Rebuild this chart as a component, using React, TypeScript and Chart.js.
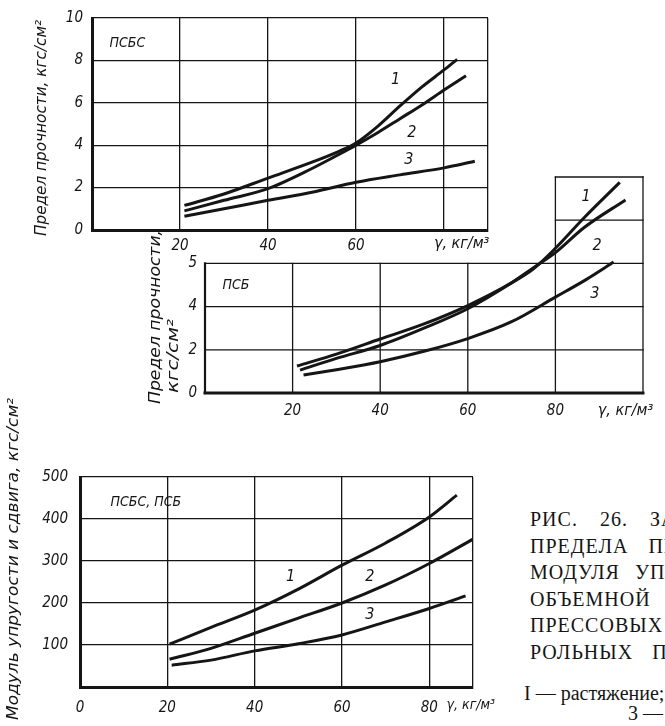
import React, { useEffect, useRef } from 'react';
import { Chart, registerables } from 'chart.js';

Chart.register(...registerables);

// ---------- DATA ----------
// Chart 1 — ПСБС, ultimate strength vs density
const psbsX1 = [21, 30, 40, 50, 56, 60, 65, 70, 75, 80, 83];
const psbsY1 = [1.16, 1.7, 2.45, 3.2, 3.7, 4.1, 4.9, 5.85, 6.75, 7.55, 8.05];
const psbsX2 = [21, 30, 40, 50, 56, 60, 65, 70, 75, 80, 85];
const psbsY2 = [0.9, 1.4, 1.95, 2.9, 3.55, 4.0, 4.6, 5.25, 5.9, 6.6, 7.28];
const psbsX3 = [21, 30, 40, 50, 60, 70, 80, 87];
const psbsY3 = [0.65, 1.0, 1.4, 1.78, 2.25, 2.6, 2.93, 3.24];
const psbsXTicks = [0, 20, 40, 60, 80, 90];
const psbsXTickLabels = ['', '20', '40', '60', '', ''];
const psbsYTicks = [0, 2, 4, 6, 8, 10];
const psbsYTickLabels = ['0', '2', '4', '6', '8', '10'];

// Chart 2 — ПСБ, ultimate strength vs density
const psbX1 = [21, 30, 40, 50, 60, 70, 75, 80, 86.5, 94.7];
const psbY1 = [1.25, 1.8, 2.5, 3.2, 4.05, 5.1, 5.75, 6.7, 8.1, 9.75];
const psbX2 = [21.7, 30, 40, 50, 60, 70, 75, 80, 86.5, 96];
const psbY2 = [1.06, 1.6, 2.2, 3.0, 3.9, 5.1, 5.8, 6.5, 7.65, 8.94];
const psbX3 = [22.5, 30, 40, 50, 60, 70, 80, 87, 93.3];
const psbY3 = [0.83, 1.08, 1.45, 1.93, 2.52, 3.3, 4.44, 5.25, 6.06];
const psbXTicks = [0, 20, 40, 60, 80, 100];
const psbXTickLabels = ['', '20', '40', '60', '80', ''];
const psbYTicks = [0, 2, 4, 6];
const psbYTickLabels = ['0', '2', '4', '5'];
const psbGridX = [20, 40, 60];
const psbGridY = [2, 4];
const psbColumnX = [80, 100];
const psbColumnY = [8, 10];

// Chart 3 — ПСБС, ПСБ, modulus vs density
const modX1 = [20.5, 30, 40, 50, 60, 70, 80, 86.3];
const modY1 = [102, 142, 183, 233, 290, 343, 405, 457];
const modX2 = [20.5, 30, 40, 50, 60, 70, 80, 90];
const modY2 = [66, 92, 128, 164, 200, 243, 294, 352];
const modX3 = [21, 30, 40, 50, 60, 70, 80, 88.3];
const modY3 = [52, 64, 86, 103, 124, 155, 187, 217];
const modXTicks = [0, 20, 40, 60, 80, 90];
const modXTickLabels = ['0', '20', '40', '60', '80', ''];
const modYTicks = [0, 100, 200, 300, 400, 500];
const modYTickLabels = ['', '100', '200', '300', '400', '500'];

const captionLines = [
  'РИС. 26. ЗАВИСИМОСТЬ',
  'ПРЕДЕЛА ПРОЧНОСТИ И',
  'МОДУЛЯ УПРУГОСТИ ОТ',
  'ОБЪЕМНОЙ МАССЫ',
  'ПРЕССОВЫХ ПЕНОПОЛИСТИ-',
  'РОЛЬНЫХ ПЕНОПЛАСТОВ',
];
const captionWordGaps = [16, 14, 9, 9, 9, 13];
const captionNote1 = 'I — растяжение; 2 — сжатие;';
const captionNote2 = '3 — изгиб';

// ---------- STYLE ----------
const FAMILY = '"Liberation Sans Narrow", "DejaVu Sans Condensed", "DejaVu Sans", sans-serif';
const INK = '#151515';
const tickFont = { family: FAMILY, size: 15, style: 'italic' as const };

const pts = (xs: number[], ys: number[]) => xs.map((x, i) => ({ x, y: ys[i] }));
const curve = (xs: number[], ys: number[]) => ({
  data: pts(xs, ys),
  borderColor: INK,
  borderWidth: 3,
  pointRadius: 0,
  fill: false,
  cubicInterpolationMode: 'monotone' as const,
});

// Text annotations plugin
const notesPlugin = {
  id: 'notes',
  afterDatasetsDraw(chart: any, _a: any, opts: any) {
    const ctx = chart.ctx as CanvasRenderingContext2D;
    const xs = chart.scales.x;
    const ys = chart.scales.y;
    const area = chart.chartArea;
    ctx.save();
    ctx.fillStyle = INK;
    for (const n of opts.labels || []) {
      ctx.font = `italic ${n.size}px ${FAMILY}`;
      ctx.textAlign = n.align || 'center';
      ctx.textBaseline = 'middle';
      ctx.fillText(n.text, xs.getPixelForValue(n.x), ys.getPixelForValue(n.y));
    }
    for (const u of opts.units || []) {
      ctx.font = `italic ${u.size}px ${FAMILY}`;
      ctx.textAlign = 'center';
      ctx.textBaseline = 'middle';
      ctx.fillText(u.text, xs.getPixelForValue(u.x), area.bottom + u.dy);
    }
    for (const t of opts.titles || []) {
      ctx.save();
      ctx.font = `italic ${t.size}px ${FAMILY}`;
      ctx.textAlign = 'left';
      ctx.textBaseline = 'middle';
      ctx.translate(t.px, t.py);
      ctx.rotate(-Math.PI / 2);
      const w = ctx.measureText(t.text).width;
      if (t.len) ctx.scale(t.len / w, 1);
      ctx.fillText(t.text, 0, 0);
      ctx.restore();
    }
    ctx.restore();
  },
};

// Stepped frame for chart 2
const stepFramePlugin = {
  id: 'stepFrame',
  beforeDatasetsDraw(chart: any, _a: any, opts: any) {
    if (!opts || !opts.enabled) return;
    const ctx = chart.ctx as CanvasRenderingContext2D;
    const xs = chart.scales.x;
    const ys = chart.scales.y;
    const seg = (x1: number, y1: number, x2: number, y2: number, w: number) => {
      ctx.lineWidth = w;
      ctx.beginPath();
      ctx.moveTo(xs.getPixelForValue(x1), ys.getPixelForValue(y1));
      ctx.lineTo(xs.getPixelForValue(x2), ys.getPixelForValue(y2));
      ctx.stroke();
    };
    const xMin = psbXTicks[0];
    const xMax = psbXTicks[psbXTicks.length - 1];
    const yTop = psbYTicks[psbYTicks.length - 1];
    const colTop = psbColumnY[psbColumnY.length - 1];
    ctx.save();
    ctx.strokeStyle = INK;
    ctx.lineCap = 'square';
    for (const gx of psbGridX) seg(gx, 0, gx, yTop, 1.3);
    for (const gy of psbGridY) seg(xMin, gy, xMax, gy, 1.3);
    seg(xMin, yTop, xMax, yTop, 1.3);
    for (const cx of psbColumnX) seg(cx, 0, cx, colTop, 1.3);
    for (const cy of psbColumnY) seg(psbColumnX[0], cy, psbColumnX[1], cy, 1.3);
    seg(xMin, 0, xMin, yTop, 2.2);
    seg(xMin, 0, xMax, 0, 3);
    ctx.restore();
  },
};

Chart.register(notesPlugin, stepFramePlugin);

function axis(
  min: number, max: number, ticks: number[], labels: string[], size: number,
  horizontal: boolean, padding: number, builtInGrid: boolean,
) {
  return {
    type: 'linear' as const,
    min,
    max,
    afterBuildTicks: (s: any) => { s.ticks = ticks.map((v) => ({ value: v })); },
    afterFit: (s: any) => { if (horizontal) s.height = size; else s.width = size; },
    ticks: {
      callback: (_v: any, i: number) => labels[i],
      padding,
      font: tickFont,
      color: INK,
      autoSkip: false,
      maxRotation: 0,
    },
    grid: builtInGrid
      ? { display: true, color: INK, lineWidth: 1.3, drawTicks: false }
      : { display: false, drawTicks: false },
    border: builtInGrid ? { display: true, color: INK, width: 3 } : { display: false },
  };
}

const baseOpts = {
  responsive: false,
  animation: false as const,
  events: [] as any[],
};

const config1: any = {
  type: 'line',
  data: { datasets: [curve(psbsX1, psbsY1), curve(psbsX2, psbsY2), curve(psbsX3, psbsY3)] },
  options: {
    ...baseOpts,
    layout: { padding: { left: 0, top: 15, right: 32, bottom: 0 } },
    scales: {
      x: axis(0, 90, psbsXTicks, psbsXTickLabels, 32, true, 7, true),
      y: axis(0, 10, psbsYTicks, psbsYTickLabels, 92, false, 9, true),
    },
    plugins: {
      legend: { display: false },
      tooltip: { enabled: false },
      notes: {
        labels: [
          { text: 'ПСБС', x: 4, y: 8.8, size: 14, align: 'left' },
          { text: '1', x: 69, y: 7.1, size: 16 },
          { text: '2', x: 72.7, y: 4.6, size: 16 },
          { text: '3', x: 72, y: 3.3, size: 16 },
        ],
        units: [{ text: 'γ, кг/м³', x: 84, dy: 14, size: 16 }],
        titles: [{ text: 'Предел прочности, кгс/см²', px: 42, py: 236, size: 15, len: 216 }],
      },
    },
  },
};

const config2: any = {
  type: 'line',
  data: { datasets: [curve(psbX1, psbY1), curve(psbX2, psbY2), curve(psbX3, psbY3)] },
  options: {
    ...baseOpts,
    layout: { padding: { left: 0, top: 16, right: 22, bottom: 0 } },
    scales: {
      x: axis(0, 100, psbXTicks, psbXTickLabels, 37, true, 9, false),
      y: axis(0, 10, psbYTicks, psbYTickLabels, 95, false, 8, false),
    },
    plugins: {
      legend: { display: false },
      tooltip: { enabled: false },
      stepFrame: { enabled: true },
      notes: {
        labels: [
          { text: 'ПСБ', x: 4, y: 5.0, size: 14, align: 'left' },
          { text: '1', x: 87, y: 9.1, size: 16 },
          { text: '2', x: 89.5, y: 6.8, size: 16 },
          { text: '3', x: 89, y: 4.6, size: 16 },
        ],
        units: [{ text: 'γ, кг/м³', x: 96, dy: 18, size: 16 }],
        titles: [
          { text: 'Предел прочности,', px: 46, py: 244, size: 15, len: 174 },
          { text: 'кгс/см²', px: 64, py: 233, size: 15, len: 74 },
        ],
      },
    },
  },
};

const config3: any = {
  type: 'line',
  data: { datasets: [curve(modX1, modY1), curve(modX2, modY2), curve(modX3, modY3)] },
  options: {
    ...baseOpts,
    layout: { padding: { left: 0, top: 87, right: 27, bottom: 0 } },
    scales: {
      x: axis(0, 90, modXTicks, modXTickLabels, 39, true, 12, true),
      y: axis(0, 500, modYTicks, modYTickLabels, 80, false, 12, true),
    },
    plugins: {
      legend: { display: false },
      tooltip: { enabled: false },
      notes: {
        labels: [
          { text: 'ПСБС, ПСБ', x: 7, y: 440, size: 14, align: 'left' },
          { text: '1', x: 48.2, y: 262, size: 16 },
          { text: '2', x: 66.4, y: 262, size: 16 },
          { text: '3', x: 66.4, y: 171, size: 16 },
        ],
        units: [{ text: 'γ, кг/м³', x: 89.5, dy: 18, size: 14 }],
        titles: [{ text: 'Модуль упругости и сдвига, кгс/см²', px: 14, py: 330, size: 15, len: 322 }],
      },
    },
  },
};

function ChartCanvas(props: { left: number; top: number; width: number; height: number; config: any }) {
  const ref = useRef<HTMLCanvasElement>(null);
  useEffect(() => {
    const chart = new Chart(ref.current as HTMLCanvasElement, props.config);
    return () => chart.destroy();
  }, []);
  return (
    <canvas
      ref={ref}
      width={props.width}
      height={props.height}
      style={{ position: 'absolute', left: props.left, top: props.top, width: props.width, height: props.height }}
    />
  );
}

export default function App() {
  const serif = '"Liberation Serif", "DejaVu Serif", serif';
  return (
    <div
      style={{
        position: 'absolute', left: 0, top: 0, width: 665, height: 726,
        overflow: 'hidden', background: '#fff',
      }}
    >
      <ChartCanvas left={0} top={0} width={520} height={262} config={config1} />
      <ChartCanvas left={110} top={160} width={555} height={270} config={config2} />
      <ChartCanvas left={0} top={390} width={500} height={336} config={config3} />
      {captionLines.map((t, i) => (
        <div
          key={i}
          style={{
            position: 'absolute', left: 530, top: 506 + i * 26.6, height: 26,
            fontFamily: serif, fontSize: 20, lineHeight: '26px', letterSpacing: 1,
            wordSpacing: captionWordGaps[i], whiteSpace: 'nowrap', color: INK,
          }}
        >
          {t}
        </div>
      ))}
      <div
        style={{
          position: 'absolute', left: 524, top: 680, fontFamily: serif, fontSize: 20,
          lineHeight: '26px', whiteSpace: 'nowrap', color: INK,
        }}
      >
        {captionNote1}
      </div>
      <div
        style={{
          position: 'absolute', left: 628, top: 700, fontFamily: serif, fontSize: 20,
          lineHeight: '26px', whiteSpace: 'nowrap', color: INK,
        }}
      >
        {captionNote2}
      </div>
    </div>
  );
}
